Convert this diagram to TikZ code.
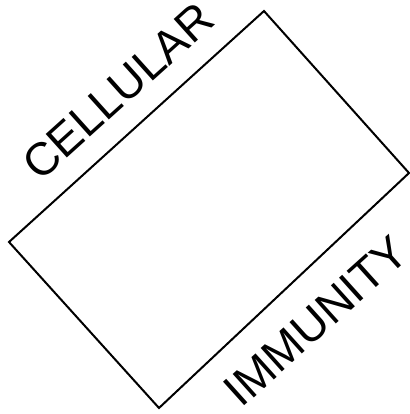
\documentclass[tikz,border=0pt]{standalone}
\usepackage{fontspec}
\setmainfont{Liberation Sans}
\begin{document}
\begin{tikzpicture}[x=1bp,y=-1bp,
  frame/.style={draw=black,line width=2bp,line join=miter},
  label/.style={inner sep=0pt,anchor=center,rotate=42,font=\fontsize{46bp}{46bp}\selectfont}]
\useasboundingbox (0,0) rectangle (410,414);
\coordinate (T) at (264,11);
\coordinate (R) at (409,173);
\coordinate (B) at (159,408);
\coordinate (L) at (9,242);
\draw[frame] (T) -- (R) -- (B) -- (L) -- cycle;
\node[label] (cell) at (118,91) {CELLULAR};
\node[label] (imm) at (316,321) {IMMUNITY};
\end{tikzpicture}
\end{document}
